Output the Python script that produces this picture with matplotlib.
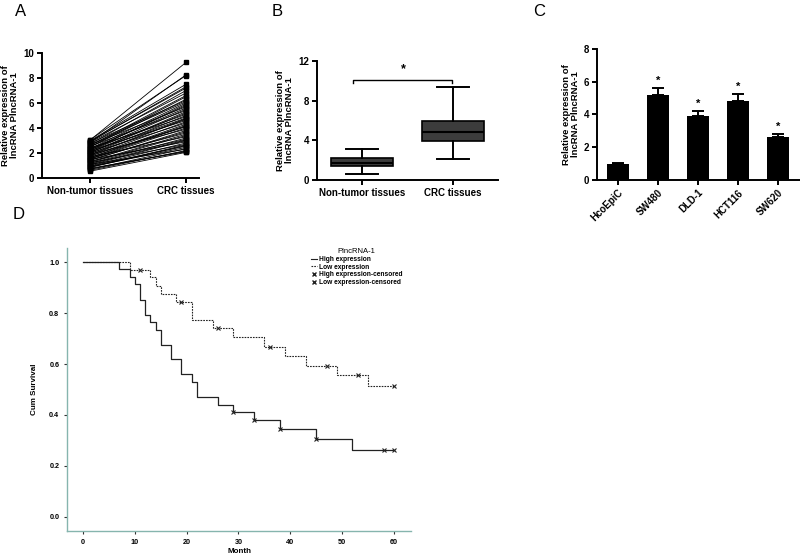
"""Four-panel PlncRNA-1 expression figure (paired lines, box plot, cell lines, KM)."""

import matplotlib

matplotlib.use("Agg")

import matplotlib.pyplot as plt
import numpy as np
from matplotlib.lines import Line2D

plt.rcParams["font.family"] = ["Liberation Sans", "DejaVu Sans"]

W, H = 800, 554

# --- panel A: paired samples -------------------------------------------------
pair_labels = ["Non-tumor tissues", "CRC tissues"]
normal_expr = [0.55, 0.62, 0.70, 0.78, 0.85, 0.90, 0.98, 1.05, 1.10, 1.18, 1.22, 1.30,
               1.35, 1.41, 1.48, 1.52, 1.58, 1.63, 1.70, 1.74, 1.80, 1.84, 1.90, 1.95,
               2.00, 2.04, 2.10, 2.15, 2.20, 2.26, 2.30, 2.36, 2.42, 2.48, 2.55, 2.60,
               2.66, 2.72, 2.80, 2.86, 2.92, 3.00, 3.05, 1.25, 1.65, 2.05, 2.50, 0.95,
               1.45, 2.85, 1.88, 2.33, 0.72, 1.12, 2.68, 3.08, 1.55, 2.18, 0.88, 2.95]
tumor_expr = [2.05, 2.20, 2.35, 2.10, 2.60, 2.45, 2.80, 3.00, 2.30, 3.20, 2.70, 3.50,
              3.10, 3.80, 2.90, 4.00, 3.60, 4.20, 3.30, 4.50, 4.10, 4.70, 3.90, 5.00,
              4.40, 5.20, 4.80, 5.50, 4.60, 5.80, 5.10, 6.00, 4.90, 6.30, 5.40, 6.60,
              5.70, 7.00, 6.20, 6.80, 7.30, 7.50, 9.25, 3.40, 4.30, 5.30, 6.50, 2.55,
              3.70, 8.25, 4.75, 5.60, 2.15, 3.05, 6.10, 8.20, 4.15, 5.90, 2.65, 7.20]

# --- panel B: box summary ----------------------------------------------------
box_whislo = [0.6, 2.1]
box_q1 = [1.4, 3.9]
box_med = [1.75, 4.8]
box_q3 = [2.2, 5.95]
box_whishi = [3.1, 9.4]

# --- panel C: cell lines -----------------------------------------------------
cell_lines = ["HcoEpiC", "SW480", "DLD-1", "HCT116", "SW620"]
cell_mean = [1.0, 5.2, 3.9, 4.8, 2.6]
cell_err = [0.04, 0.4, 0.3, 0.45, 0.2]
cell_sig = [False, True, True, True, True]

# --- panel D: Kaplan-Meier ---------------------------------------------------
high_t = [0, 7, 9, 10, 11, 12, 13, 14, 15, 17, 19, 21, 22, 26, 29, 33, 38, 45, 52, 60]
high_s = [1.0, 0.971, 0.941, 0.912, 0.853, 0.794, 0.765, 0.735, 0.676, 0.618, 0.559,
          0.529, 0.471, 0.441, 0.412, 0.382, 0.345, 0.307, 0.263, 0.263]
high_cens = [29, 33, 38, 45, 58, 60]
low_t = [0, 9, 13, 14, 15, 18, 21, 25, 29, 35, 39, 43, 49, 55, 60]
low_s = [1.0, 0.970, 0.940, 0.907, 0.875, 0.842, 0.773, 0.740, 0.705, 0.668, 0.632,
         0.594, 0.556, 0.514, 0.514]
low_cens = [11, 19, 26, 36, 47, 53, 60]


def px_axes(fig, left, top, right, bottom):
    return fig.add_axes([left / W, 1 - bottom / H, (right - left) / W, (bottom - top) / H])


def style_prism(ax, fs=7):
    for side in ("top", "right"):
        ax.spines[side].set_visible(False)
    for side in ("left", "bottom"):
        ax.spines[side].set_linewidth(1.4)
    ax.tick_params(width=1.4, length=3.5, labelsize=fs, pad=2)
    for lab in ax.get_xticklabels() + ax.get_yticklabels():
        lab.set_fontweight("bold")


def step_value(times, surv, t):
    idx = np.searchsorted(times, t, side="right") - 1
    return np.asarray(surv)[idx]


fig = plt.figure(figsize=(W / 100, H / 100), dpi=100)
ylab = "Relative expression of\nlncRNA PlncRNA-1"
ylab_kw = dict(fontsize=6.8, fontweight="bold", labelpad=3, linespacing=1.0)

# A
ax = px_axes(fig, 42, 53, 199, 178)
for a, b in zip(normal_expr, tumor_expr):
    ax.plot([0, 1], [a, b], "-", color="black", lw=0.6)
ax.plot(np.zeros(len(normal_expr)), normal_expr, "s", color="black", ms=3)
ax.plot(np.ones(len(tumor_expr)), tumor_expr, "s", color="black", ms=3.5)
ax.set_xlim(-0.506, 1.136)
ax.set_ylim(0, 10)
ax.set_yticks(range(0, 11, 2))
ax.set_xticks([0, 1])
ax.set_xticklabels(pair_labels)
ax.set_ylabel(ylab, **ylab_kw)
style_prism(ax)

# B
ax = px_axes(fig, 317, 61, 498, 180)
stats = [
    dict(whislo=box_whislo[i], q1=box_q1[i], med=box_med[i], q3=box_q3[i],
         whishi=box_whishi[i], fliers=[])
    for i in range(2)
]
ax.bxp(stats, positions=[0, 1], widths=0.68, patch_artist=True,
       boxprops=dict(facecolor="#3c3c3c", edgecolor="black", linewidth=1.2),
       medianprops=dict(color="black", linewidth=1.5),
       whiskerprops=dict(color="black", linewidth=1.4),
       capprops=dict(color="black", linewidth=1.4), capwidths=0.35)
ax.plot([-0.1, -0.1, 0.99, 0.99], [9.8, 10.1, 10.1, 9.8], color="black", lw=1.0)
ax.text(0.45, 10.6, "*", ha="center", va="bottom", fontsize=9, fontweight="bold")
ax.set_xlim(-0.495, 1.494)
ax.set_ylim(0, 12)
ax.set_yticks([0, 4, 8, 12])
ax.set_xticks([0, 1])
ax.set_xticklabels(pair_labels)
ax.set_ylabel(ylab, **ylab_kw)
style_prism(ax)

# C
ax = px_axes(fig, 597, 49, 800, 180)
xc = np.arange(len(cell_lines))
ax.bar(xc, cell_mean, width=0.55, color="black")
ax.errorbar(xc, cell_mean, yerr=[np.zeros(len(cell_err)), cell_err], fmt="none",
            ecolor="black", elinewidth=1.4, capsize=4, capthick=1.4)
for x, m, e, s in zip(xc, cell_mean, cell_err, cell_sig):
    if s:
        ax.text(x, m + e + 0.15, "*", ha="center", va="bottom", fontsize=8, fontweight="bold")
ax.set_xlim(-0.525, 4.55)
ax.set_ylim(0, 8)
ax.set_yticks(range(0, 9, 2))
ax.set_xticks(xc)
ax.set_xticklabels(cell_lines, rotation=45, ha="right", rotation_mode="anchor")
ax.set_ylabel(ylab, **ylab_kw)
style_prism(ax)

# D
spine_col = "#86b5ae"
ax = px_axes(fig, 67, 248, 411, 531)
ax.step(high_t, high_s, where="post", color="#222222", lw=0.9)
ax.step(low_t, low_s, where="post", color="#222222", lw=0.8, linestyle=(0, (1.5, 1)))
ax.plot(high_cens, step_value(high_t, high_s, high_cens), "x", color="#222222", ms=2.5, mew=0.8)
ax.plot(low_cens, step_value(low_t, low_s, low_cens), "x", color="#222222", ms=2.5, mew=0.8)
ax.set_xlim(-3.09, 63.3)
ax.set_ylim(-0.055, 1.055)
ax.set_xticks(range(0, 61, 10))
ax.set_yticks([0.0, 0.2, 0.4, 0.6, 0.8, 1.0])
ax.set_yticklabels(["0.0", "0.2", "0.4", "0.6", "0.8", "1.0"])
for side in ("top", "right"):
    ax.spines[side].set_visible(False)
for side in ("left", "bottom"):
    ax.spines[side].set_color(spine_col)
    ax.spines[side].set_linewidth(1.0)
ax.tick_params(labelsize=5.2, length=2.5, width=0.8, color="#333333", pad=3)
for lab in ax.get_xticklabels() + ax.get_yticklabels():
    lab.set_fontweight("bold")
ax.set_xlabel("Month", fontsize=5.8, fontweight="bold", labelpad=2)
ax.set_ylabel("Cum Survival", fontsize=5.8, fontweight="bold", labelpad=8)

handles = [
    Line2D([], [], color="#222222", lw=0.8),
    Line2D([], [], color="#222222", lw=0.8, linestyle=(0, (1.5, 1))),
    Line2D([], [], color="#222222", marker="x", ms=2.5, lw=0),
    Line2D([], [], color="#222222", marker="x", ms=2.5, lw=0),
]
labels = ["High expression", "Low expression", "High expression-censored",
          "Low expression-censored"]
leg = ax.legend(handles, labels, title="PlncRNA-1", loc="upper left",
                bbox_to_anchor=((306 - 67) / 344, 1.015), frameon=False,
                fontsize=4.8, title_fontsize=5.5, handlelength=1.0, handletextpad=0.2,
                labelspacing=0.1, borderpad=0.2)
for t in leg.get_texts():
    t.set_fontweight("bold")

# panel letters
for letter, x, y in [("A", 15, 16), ("B", 272, 16), ("C", 533, 16), ("D", 13, 219)]:
    fig.text(x / W, 1 - y / H, letter, fontsize=12, ha="left", va="baseline")

fig.savefig("out.png", dpi=100)
